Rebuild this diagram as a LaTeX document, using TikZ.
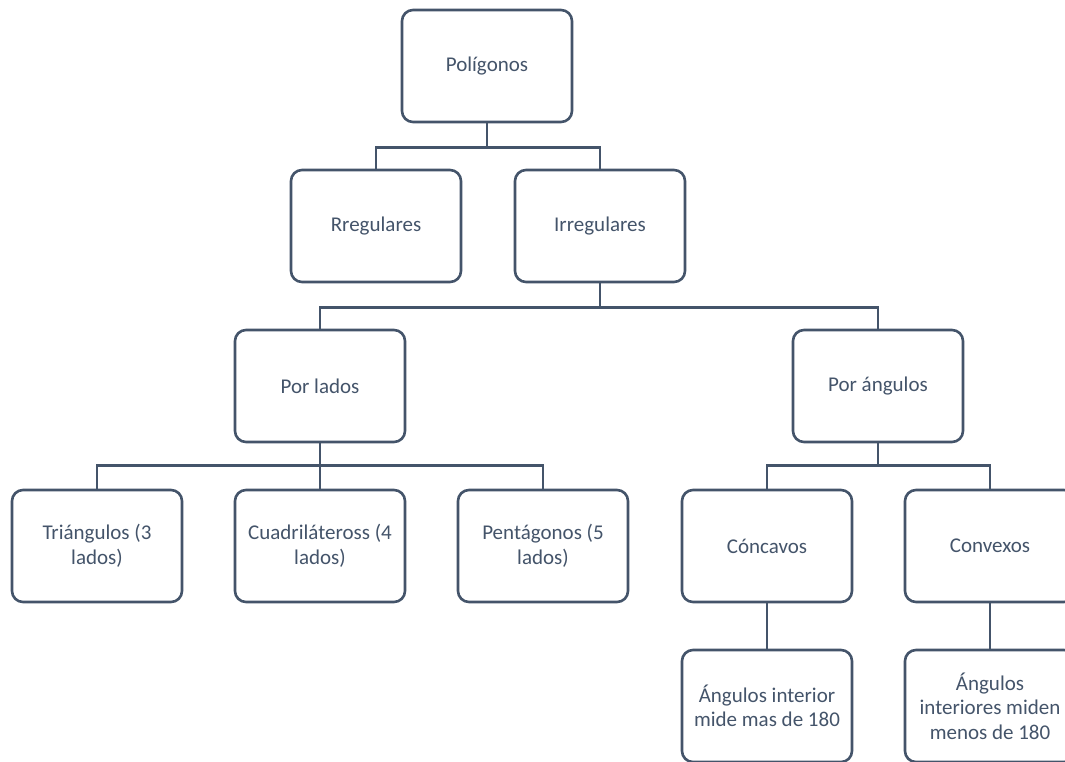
\documentclass[tikz,border=0pt]{standalone}
\usepackage{fontspec}
\setmainfont{Carlito}
\usetikzlibrary{calc}
\definecolor{slate}{HTML}{44546A}
\tikzset{
  caja/.style={draw=slate,line width=2.6pt,rounded corners=11pt,fill=white,
    minimum width=170pt,minimum height=112pt,align=center,text=slate,
    font=\fontsize{21}{24.5}\selectfont,inner sep=2pt},
  rama/.style={draw=slate,line width=2.6pt}
}
\begin{document}
\begin{tikzpicture}[x=1pt,y=-1pt]
\useasboundingbox (0,0) rectangle (1065,762);
\clip (0,0) rectangle (1065,762);
\fill[white](0,0) rectangle (1065,762);
\node[caja](pol)at(487,66){Polígonos};
\node[caja](reg)at(376,226){Rregulares};
\node[caja](irr)at(600,226){Irregulares};
\node[caja](lad)at(320,386){Por lados};
\node[caja](ang)at(878,386){Por ángulos};
\node[caja](tri)at(97,546){Triángulos (3\\lados)};
\node[caja](cua)at(320,546){Cuadriláteross (4\\lados)};
\node[caja](pen)at(543,546){Pentágonos (5\\lados)};
\node[caja](conc)at(767,546){Cóncavos};
\node[caja](conv)at(990,546){Convexos};
\node[caja](mas)at(767,706){Ángulos interior\\mide mas de 180};
\node[caja](menos)at(990,706){Ángulos\\interiores miden\\menos de 180};
% ramas
\draw[rama](pol.south)--++(0,24)-|(reg.north);
\draw[rama](pol.south)--++(0,24)-|(irr.north);
\draw[rama](irr.south)--++(0,24)-|(lad.north);
\draw[rama](irr.south)--++(0,24)-|(ang.north);
\draw[rama](lad.south)--++(0,22)-|(tri.north);
\draw[rama](lad.south)--(cua.north);
\draw[rama](lad.south)--++(0,22)-|(pen.north);
\draw[rama](ang.south)--++(0,22)-|(conc.north);
\draw[rama](ang.south)--++(0,22)-|(conv.north);
\draw[rama](conc.south)--(mas.north);
\draw[rama](conv.south)--(menos.north);
\end{tikzpicture}
\end{document}
